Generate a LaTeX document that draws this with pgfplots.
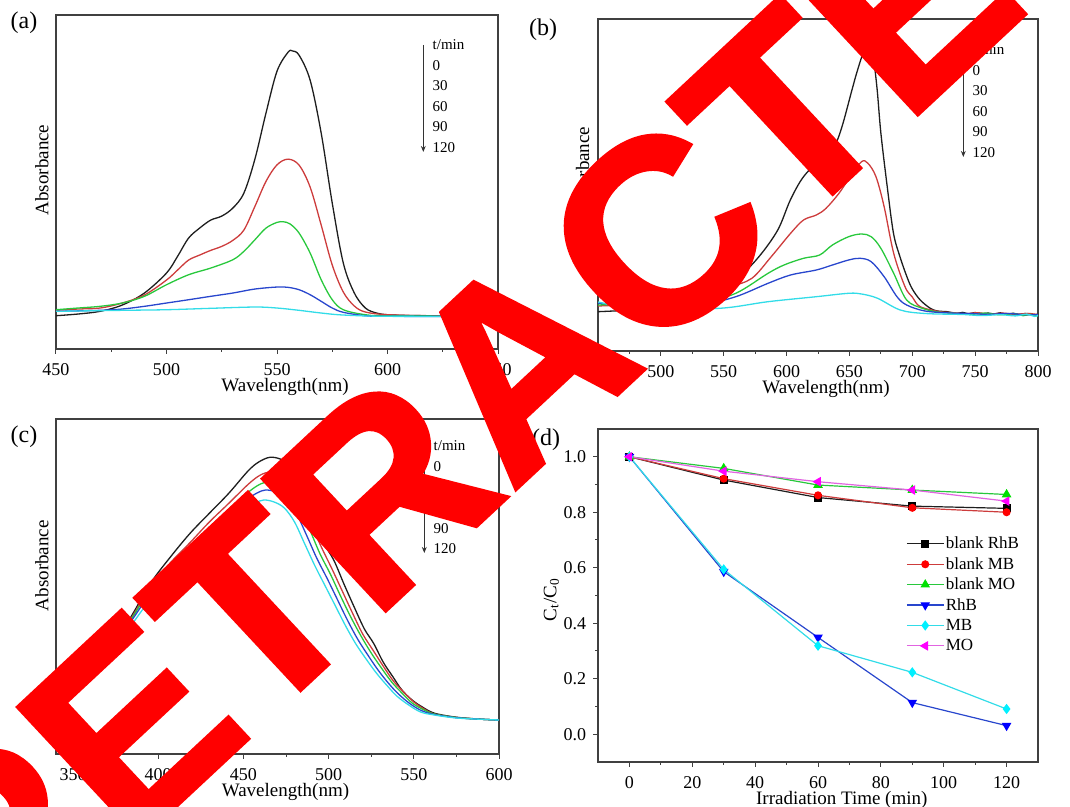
\documentclass[border=0pt]{standalone}
\usepackage{fontspec}
\setmainfont{Liberation Serif}
\newfontfamily\stampfont{Liberation Sans Bold}[FakeBold=1.5]
\usepackage{pgfplots}
\pgfplotsset{compat=1.18}
\usetikzlibrary{arrows.meta}

\definecolor{cK}{RGB}{30,30,30}
\definecolor{cR}{RGB}{205,60,60}
\definecolor{cG}{RGB}{40,200,60}
\definecolor{cB}{RGB}{40,70,205}
\definecolor{cC}{RGB}{50,220,232}
\definecolor{mR}{RGB}{255,0,0}
\definecolor{mG}{RGB}{0,225,0}
\definecolor{mB}{RGB}{0,0,255}
\definecolor{mC}{RGB}{0,240,255}
\definecolor{mM}{RGB}{255,0,255}
\definecolor{lM}{RGB}{225,100,225}

\pgfplotsset{
  /pgf/number format/assume math mode=true,
  base/.style={
    scale only axis, anchor=south west,
    tick align=outside, xtick pos=bottom,
    major tick length=2.4pt, minor tick length=1.4pt,
    axis line style={black!75, line width=0.6pt},
    every tick/.style={black!75, line width=0.5pt},
    tick label style={font=\fontsize{9}{10}\selectfont},
    xticklabel style={yshift=-1.5pt},
    label style={font=\fontsize{9.5}{11}\selectfont},
    minor x tick num=1,
  },
  spec/.style={
    base, ytick=\empty, ymin=0,
    xlabel={Wavelength(nm)}, ylabel={Absorbance},
    xlabel style={at={(axis description cs:0.5,0)}, anchor=center, yshift=-19pt, xshift=4pt},
    every axis plot/.append style={line width=0.65pt, no marks, smooth, tension=0.55},
  },
}

\newcommand\tmin[3]{% x of arrow, top y, step (all pt)
  \draw[-{Stealth[length=3pt,width=2.4pt]}, line width=0.45pt, black!80] (#1,#2) -- ++(0,-53.5pt);
  \foreach \t [count=\i from 0] in {t/min,0,30,60,90,120}
    \node[anchor=west, inner sep=0pt, font=\fontsize{7.5}{9}\selectfont] at ([xshift=4.5pt]#1,#2-\i*#3) {\t};
}

\begin{document}
\begin{tikzpicture}
\path[use as bounding box] (0,0) rectangle (535pt,403.5pt);
\clip (0,0) rectangle (535pt,403.5pt);

% (a)
\begin{axis}[spec, at={(28pt,229pt)}, width=221pt, height=167pt,
  xmin=450, xmax=650, ymax=334.3, xtick={450,500,...,650},
  ylabel style={at={(axis description cs:-0.032,0.536)}, anchor=center}]
\addplot[cK] coordinates {(450,33.3)(460,35)(470,37.7)(480,44)(490,56)(500,76)(505,92.7)(510,111)(515,121)(520,129)(525,133)(530,141)(535,156)(540,190)(545,236)(550,278)(555,297)(557,298.3)(560,294)(565,269)(570,216)(575,146)(580,86)(585,56)(590,41)(595,36)(600,34.3)(610,33.5)(620,33.3)(635,33)(650,33)};
\addplot[cR] coordinates {(450,38.7)(460,40)(470,41)(480,46)(490,54)(500,69)(505,79)(510,89)(515,94)(520,98.7)(525,102.7)(530,108.7)(535,119)(540,142.7)(545,167.7)(550,184.3)(555,190)(560,184)(565,162)(570,124)(575,84)(580,57)(585,43)(590,37)(600,34.3)(620,33.3)(650,33)};
\addplot[cG] coordinates {(450,39.3)(460,41)(470,42.7)(480,46)(490,52.7)(500,64.3)(510,74.3)(520,81)(530,89.3)(535,97.7)(540,109.3)(545,121)(550,126.7)(553,127.3)(556,125)(560,116)(565,96)(570,69.3)(575,49.3)(580,39.3)(590,34.3)(600,33.3)(650,33)};
\addplot[cB] coordinates {(450,37.7)(470,38.7)(480,40)(490,42.7)(500,46)(510,49.3)(520,52.7)(530,56)(540,60)(550,62)(555,61.7)(560,59.3)(565,54.3)(570,47.7)(575,41)(580,36.7)(590,33.3)(600,32.7)(650,32.7)};
\addplot[cC] coordinates {(450,37.7)(480,38.7)(500,39.3)(520,40.7)(540,42)(550,41)(560,38.7)(570,36)(580,34)(600,32.7)(650,32.7)};
\end{axis}

% (b)
\begin{axis}[spec, at={(299pt,228pt)}, width=220pt, height=166pt,
  xmin=450, xmax=800, ymax=332, xtick={450,500,...,800},
  ylabel style={at={(axis description cs:-0.035,0.539)}, anchor=center}]
\addplot[cK] coordinates {(450,39.3)(470,40.5)(495,42.7)(520,50)(542,61)(562,74.3)(578,94.3)(593,121)(603,151)(613.5,174.3)(628.8,194.3)(637.8,204.3)(644,224)(652,261)(656,279)(661,298)(665,303)(669,292)(672,262)(675,218)(680,165)(685,118)(690,95)(695.7,74.3)(700,62)(706.3,51)(714.3,42.7)(720,40)(727.6,39.3)(735,37.6)(740,38.6)(745,37.2)(750,38.5)(755,36.8)(760,38)(765,37)(770,38.2)(775,36.5)(780,37.8)(785,36.6)(790,37.5)(795,36.2)(800,36.8)};
\addplot[cR] coordinates {(450,45)(470,46)(500,48)(534,54.3)(555,64)(572.4,72.7)(587.8,94.3)(603.2,117.7)(613.5,131)(623.7,136)(631.4,142.7)(641.7,157.7)(650.6,174.3)(659.6,189.3)(664.7,187.7)(671.1,174.3)(677.6,144.3)(685.2,97.7)(694.2,64.3)(700,54)(706.3,44.3)(722,39.3)(732,38.4)(742,37.2)(752,38.3)(762,36.8)(772,37.9)(782,36.6)(792,37.6)(800,36.3)};
\addplot[cG] coordinates {(450,46)(500,48)(534,49.3)(559.6,57.7)(585.3,77.7)(598,86)(613.5,92.7)(626.3,96)(636.5,106)(649.4,114.3)(659.6,117)(667.3,114.3)(675,102.7)(685.2,77.7)(695.5,51)(708,42.7)(720,39)(733,37.8)(746,36.6)(758,37.9)(769,36.2)(781,37.4)(788,35.3)(794,36.6)(800,35.2)};
\addplot[cB] coordinates {(450,47.7)(500,46.5)(534,47)(559.6,54.3)(585.3,67.7)(603.2,76)(623.7,81)(636.5,86)(649.4,91)(658.3,92.7)(667.3,89.3)(677.6,74.3)(687.8,54.3)(695.5,46)(710,40)(730,38)(748,37.4)(760,36.6)(776,37.5)(790,36.2)(800,36.4)};
\addplot[cC] coordinates {(450,49)(470,44)(495.5,42.7)(546.8,42.7)(585.3,49.3)(623.7,54.3)(649.4,57.7)(659.6,57)(672.4,52.7)(690.4,41)(710,37.5)(740,36.5)(755,35.4)(770,36.3)(782,35.1)(791,36.9)(797,34.6)(800,35.5)};
\end{axis}

% (c)
\begin{axis}[spec, at={(28pt,26.5pt)}, width=221.5pt, height=167.5pt,
  xmin=340, xmax=600, ymax=335, xtick={350,400,...,600},
  ylabel style={at={(axis description cs:-0.032,0.562)}, anchor=center}]
\addplot[cK] coordinates {(340,60)(350,62)(360,74)(370,96)(378,120)(385,140)(396,172)(407.3,197.3)(418.7,220.7)(430,240.7)(441.4,260.7)(452.7,283)(459,292)(465.5,296.7)(471.6,295)(476,290)(481,276)(486,256)(491,233)(497,211)(503,194)(509,170)(515,147)(521,125)(526.4,110.7)(532,92)(537.7,77.3)(543,64)(549,54)(555,47)(562.3,40.7)(575.5,36.7)(590.6,34.7)(600,34)};
\addplot[cR] coordinates {(340,60)(350,62)(360,74)(370,96)(378,120)(385,138)(396,169)(407,191)(419,212)(430,232)(441,250)(453,270)(460,279)(466,282)(472,280)(478,272)(484,255)(490,229)(496,206)(502,185)(508,163)(514,141)(520,120)(526,104)(532,88)(538,73)(544,62)(550,52)(556,45)(562,40)(575,36.5)(590,34.7)(600,34)};
\addplot[cG] coordinates {(340,60)(350,62)(360,74)(370,96)(378,119)(385,137)(396,166)(407,187)(419,207)(430,226)(441,244)(453,262)(460,270)(465,272)(471,270)(477,263)(483,247)(489,224)(495,200)(501,180)(507,158)(513,137)(519,118)(525,101)(531,86)(537,72)(543,61)(549,51)(556,44)(562,40)(575,36.5)(590,34.7)(600,34)};
\addplot[cB] coordinates {(340,60)(350,62)(360,74)(370,96)(378,118)(385,135)(396,162)(407,182)(419,201)(430,219)(441,236)(452,254)(458,261)(463,264)(469,262)(475,256)(481,241)(487,219)(493,196)(499,176)(505,155)(511,134)(517,115)(523,99)(529,84)(535,71)(541,60)(548,50)(555,43)(562,39.5)(575,36.3)(590,34.7)(600,34)};
\addplot[cC] coordinates {(340,60)(350,62)(360,73)(370,94)(378,114)(386,133)(396,156)(407,176)(419,194)(430,211)(441,227)(452,245)(457,251)(462,254)(468,252)(474,246)(480,232)(486,210)(492,188)(498,168)(504,148)(510,128)(516,110)(522,95)(528,81)(534,69)(540,58)(547,49)(554,42)(562,39)(575,36)(590,34.7)(600,34)};
\end{axis}

% (d)
\begin{axis}[base, at={(299pt,22.5pt)}, width=220pt, height=166.5pt,
  xmin=-10, xmax=130, ymin=-0.1, ymax=1.1,
  xtick={0,20,...,120}, ytick={0,0.2,...,1.0}, minor y tick num=1, ytick pos=left,
  yticklabel style={/pgf/number format/.cd, fixed, fixed zerofill, precision=1},
  xlabel={Irradiation Time (min)}, ylabel={C\textsubscript{t}/C\textsubscript{0}},
  xlabel style={at={(axis description cs:0.554,0)}, anchor=center, yshift=-19pt},
  ylabel style={at={(axis description cs:-0.106,0.487)}, anchor=center},
  every axis plot/.append style={line width=0.6pt, mark size=1.7pt},
  legend image code/.code={\draw[mark repeat=2, mark phase=2] plot coordinates {(0pt,0pt) (9.2pt,0pt) (18.4pt,0pt)};},
  legend style={draw=none, fill=none, at={(0.686,0.697)}, anchor=north west,
    font=\fontsize{8.5}{10}\selectfont, row sep=0.6pt,
    nodes={inner sep=0.8pt, text height=6.5pt, text depth=1.5pt}},
  legend cell align=left]
\addplot[cK, mark=square*, mark options={fill=black, draw=black}] coordinates {(0,1)(30,0.916)(60,0.853)(90,0.822)(120,0.814)};
\addlegendentry{blank RhB}
\addplot[cR, mark=*, mark options={fill=mR, draw=mR}] coordinates {(0,1)(30,0.921)(60,0.861)(90,0.816)(120,0.80)};
\addlegendentry{blank MB}
\addplot[cG, mark=triangle*, mark size=2.2pt, mark options={fill=mG, draw=mG}] coordinates {(0,1)(30,0.958)(60,0.898)(90,0.88)(120,0.864)};
\addlegendentry{blank MO}
\addplot[cB, mark=triangle*, mark size=2.2pt, mark options={rotate=180, fill=mB, draw=mB}] coordinates {(0,1)(30,0.586)(60,0.349)(90,0.114)(120,0.031)};
\addlegendentry{RhB}
\addplot[cC, mark=diamond*, mark size=2.1pt, mark options={fill=mC, draw=mC}] coordinates {(0,1)(30,0.594)(60,0.319)(90,0.223)(120,0.091)};
\addlegendentry{MB}
\addplot[lM, mark=triangle*, mark size=2.2pt, mark options={rotate=90, fill=mM, draw=mM}] coordinates {(0,1)(30,0.948)(60,0.91)(90,0.88)(120,0.84)};
\addlegendentry{MO}
\end{axis}

% annotations
\tmin{211.65pt}{381pt}{10.25pt}
\tmin{481.65pt}{378.5pt}{10.25pt}
\tmin{212.15pt}{180.5pt}{10.3pt}
\node[font=\fontsize{12}{14}\selectfont, inner sep=0pt] at (12pt,392pt) {(a)};
\node[font=\fontsize{12}{14}\selectfont, inner sep=0pt] at (271.5pt,388.5pt) {(b)};
\node[font=\fontsize{12}{14}\selectfont, inner sep=0pt] at (12pt,185pt) {(c)};
\node[font=\fontsize{12}{14}\selectfont, inner sep=0pt] at (273pt,183.5pt) {(d)};

% stamp
\node[rotate=43, text=red, inner sep=0pt, font=\stampfont\fontsize{131}{134}\selectfont] at (259.5pt,222pt) {RETRACTED};
\end{tikzpicture}
\end{document}
